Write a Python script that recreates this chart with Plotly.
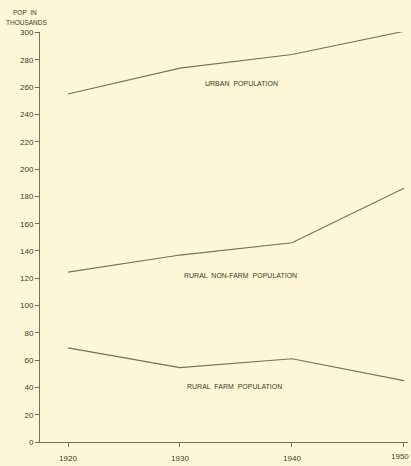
import plotly.graph_objects as go

years = [1920, 1930, 1940, 1950]
urban = [255, 274, 284, 301]
rural_nonfarm = [124.5, 137, 146, 186]
rural_farm = [69, 54.5, 61, 45]

y_ticks = [0, 20, 40, 60, 80, 100, 120, 140, 160, 180, 200, 220, 240, 260, 280, 300]
x_ticks = [1920, 1930, 1940, 1950]

series_labels = ["URBAN  POPULATION", "RURAL  NON-FARM  POPULATION", "RURAL  FARM  POPULATION"]
label_pos = [(1935.5, 263), (1935.4, 122), (1934.9, 41)]

bg = "#fdf7d7"
line_col = "#7d6d55"
text_col = "#45382a"
font = "Liberation Sans"

fig = go.Figure()
for vals in [urban, rural_nonfarm, rural_farm]:
    fig.add_trace(go.Scatter(x=years, y=vals, mode="lines",
                             line=dict(color=line_col, width=1.1),
                             showlegend=False, hoverinfo="skip"))

for txt, (lx, ly) in zip(series_labels, label_pos):
    fig.add_annotation(x=lx, y=ly, text=txt, showarrow=False,
                       font=dict(family=font, size=7, color=text_col),
                       xanchor="center", yanchor="middle")

fig.add_annotation(xref="paper", yref="paper", x=-0.04, y=1.048,
                   text="POP  IN", showarrow=False,
                   font=dict(family=font, size=6.5, color=text_col),
                   xanchor="center", yanchor="middle")
fig.add_annotation(xref="paper", yref="paper", x=-0.037, y=1.024,
                   text="THOUSANDS", showarrow=False,
                   font=dict(family=font, size=6.5, color=text_col),
                   xanchor="center", yanchor="middle")

# last x tick label placed flush with the right edge (reference shows it cut off)
fig.add_annotation(xref="paper", yref="paper", x=1.008, y=0, yshift=-14,
                   text=str(x_ticks[-1]), showarrow=False,
                   font=dict(family=font, size=8, color=text_col),
                   xanchor="right", yanchor="middle")

fig.update_layout(
    width=411, height=466,
    margin=dict(l=40, r=3, t=32, b=17),
    paper_bgcolor=bg, plot_bgcolor=bg,
    font=dict(family=font, size=8, color=text_col),
)
fig.update_xaxes(range=[1917.5, 1950.36], tickvals=x_ticks,
                 ticktext=[str(v) for v in x_ticks[:-1]] + [""],
                 showgrid=False, zeroline=False,
                 showline=True, linecolor=line_col, linewidth=1.1,
                 ticks="outside", ticklen=4, tickcolor=line_col,
                 ticklabelstandoff=4,
                 tickfont=dict(family=font, size=8, color=text_col))
fig.update_yaxes(range=[0, 300.5], tickvals=y_ticks,
                 showgrid=False, zeroline=False,
                 showline=True, linecolor=line_col, linewidth=1.1,
                 ticks="outside", ticklen=4, tickcolor=line_col,
                 tickfont=dict(family=font, size=8, color=text_col))

post = (
    "document.documentElement.style.overflow='hidden';"
    "document.body.style.margin='0';"
    "document.body.style.overflow='hidden';"
    "document.body.style.background='%s';"
) % bg

fig.write_html("out.html", config={"displayModeBar": False}, post_script=post)
